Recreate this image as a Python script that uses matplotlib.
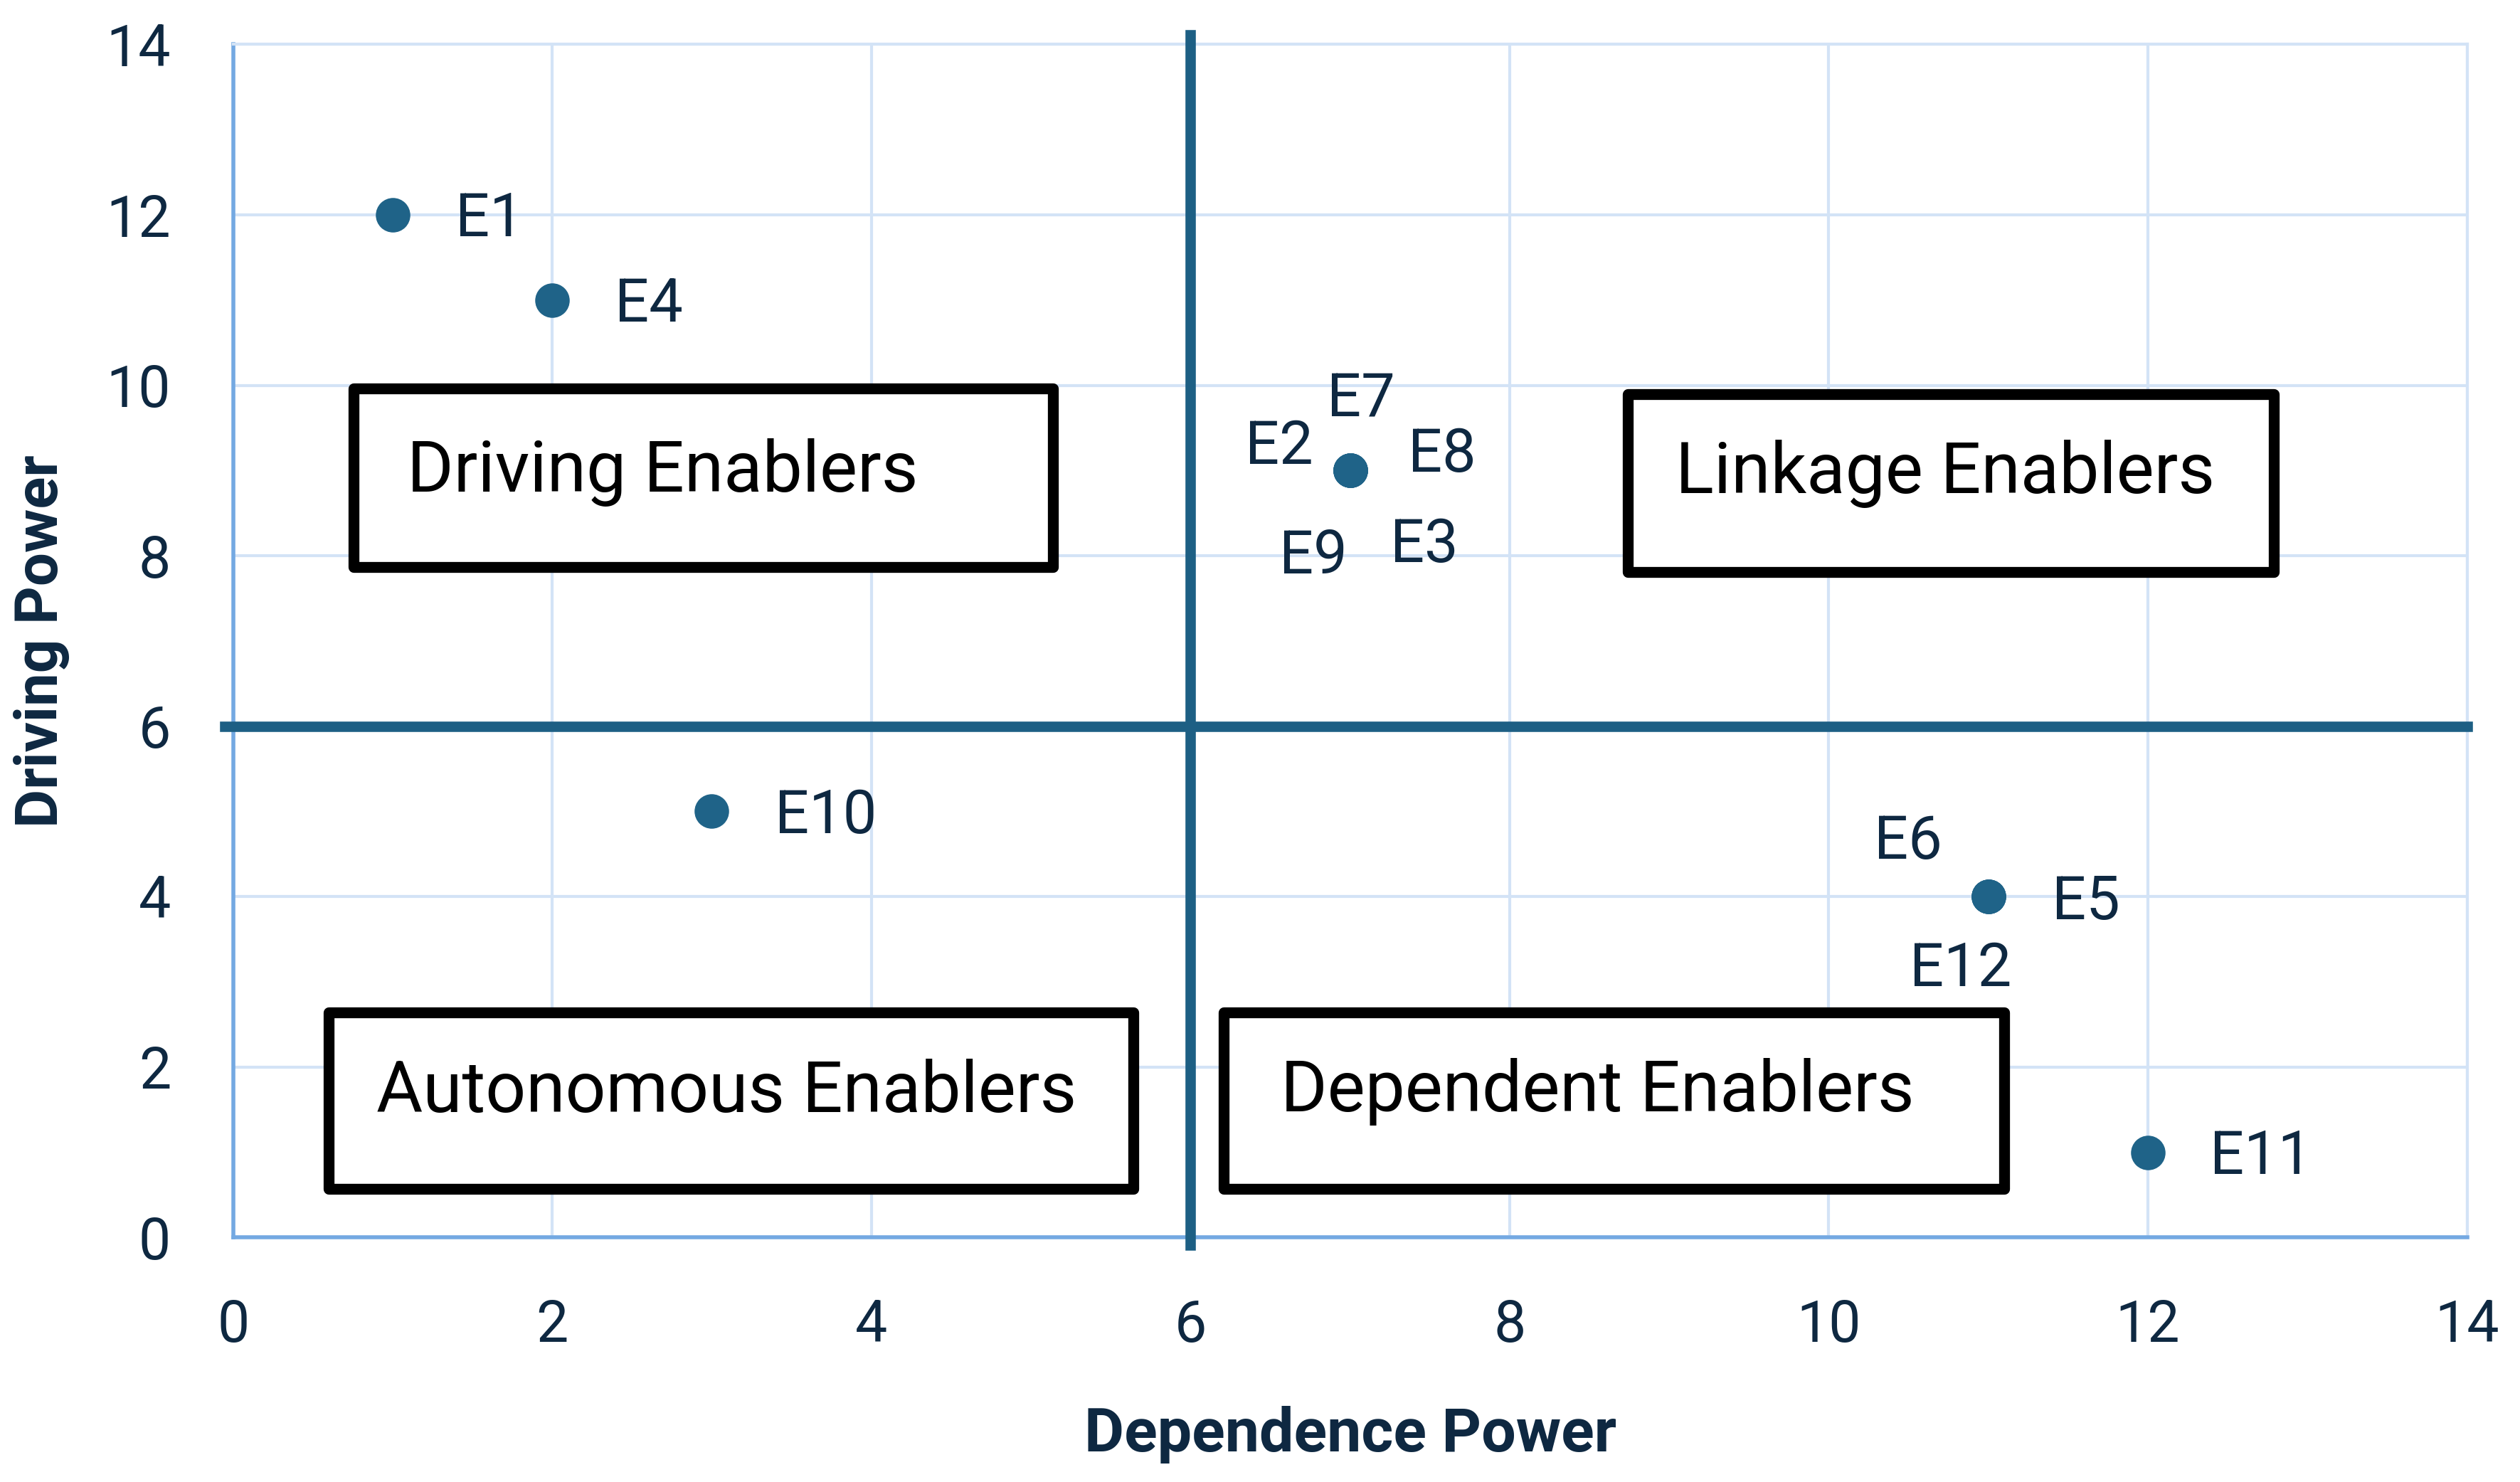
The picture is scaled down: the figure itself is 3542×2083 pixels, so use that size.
import matplotlib.pyplot as plt
from matplotlib.patches import Rectangle

plt.rcParams['font.family'] = ['Roboto', 'DejaVu Sans']

# enablers: dependence power (x) and driving power (y)
labels = ['E1', 'E4', 'E2', 'E7', 'E8', 'E9', 'E3', 'E10', 'E6', 'E5', 'E12', 'E11']
dependence = [1, 2, 7, 7, 7, 7, 7, 3, 11, 11, 11, 12]
driving = [12, 11, 9, 9, 9, 9, 9, 5, 4, 4, 4, 1]

quadrant_names = ['Driving Enablers', 'Linkage Enablers',
                  'Autonomous Enablers', 'Dependent Enablers']
ticks = [0, 2, 4, 6, 8, 10, 12, 14]

# label offsets in points, so overlapping points stay readable
offsets = [(98, -5), (98, -5), (-72, 24), (11, 72), (93, 16), (-37, -87),
           (75, -76), (115, -5), (-81, 55), (99, -6), (-28, -74), (114, -5)]
# quadrant boxes: x0, y0, x1, y1 and text centre
boxes = [(0.755, 7.87, 5.14, 9.96, 2.69, 8.98),
         (8.74, 7.81, 12.79, 9.90, 10.73, 8.96),
         (0.60, 0.57, 5.64, 2.64, 3.09, 1.70),
         (6.21, 0.57, 11.10, 2.64, 8.55, 1.71)]

navy = '#0e2841'
grid_c = '#d3e3f6'
spine_c = '#74a9e2'
line_c = '#1d5f84'

fig = plt.figure(figsize=(35.42, 20.83), dpi=100)
ax = fig.add_axes([0.0925, 0.165, 0.8865, 0.805])

ax.set_xlim(0, 14)
ax.set_ylim(0, 14)
ax.set_xticks(ticks)
ax.set_yticks(ticks)
ax.grid(True, color=grid_c, linewidth=3, zorder=0)
ax.set_axisbelow(True)
for side in ['top', 'right']:
    ax.spines[side].set_color(grid_c)
    ax.spines[side].set_linewidth(3)
for side in ['left', 'bottom']:
    ax.spines[side].set_color(spine_c)
    ax.spines[side].set_linewidth(4)
ax.tick_params(length=0, labelsize=58, labelcolor=navy)
ax.tick_params(axis='x', pad=62)
ax.tick_params(axis='y', pad=63)

# quadrant dividers
ax.plot([6, 6], [-0.09, 14.11], color=line_c, linewidth=10.5, clip_on=False, zorder=3)
ax.plot([-0.05, 14], [6, 6], color=line_c, linewidth=10.5, clip_on=False, zorder=3)

for (x0, y0, x1, y1, tx, ty), name in zip(boxes, quadrant_names):
    ax.add_patch(Rectangle((x0, y0), x1 - x0, y1 - y0, facecolor='white',
                           edgecolor='black', linewidth=11, joinstyle='round', zorder=4))
    ax.text(tx, ty, name, fontsize=72, color='black', ha='center', va='center', zorder=5)

ax.scatter(dependence, driving, s=1150, color='#1f6388', zorder=6)
for lab, x, y, off in zip(labels, dependence, driving, offsets):
    ax.annotate(lab, (x, y), xytext=off, textcoords='offset points',
                fontsize=61, color=navy, ha='center', va='center', zorder=7)

ax.set_xlabel('Dependence Power', fontsize=62, fontweight='bold', color=navy, labelpad=52)
ax.set_ylabel('Driving Power', fontsize=60, fontweight='bold', color=navy, labelpad=37)

fig.savefig('out.png', dpi=100, facecolor='white')
